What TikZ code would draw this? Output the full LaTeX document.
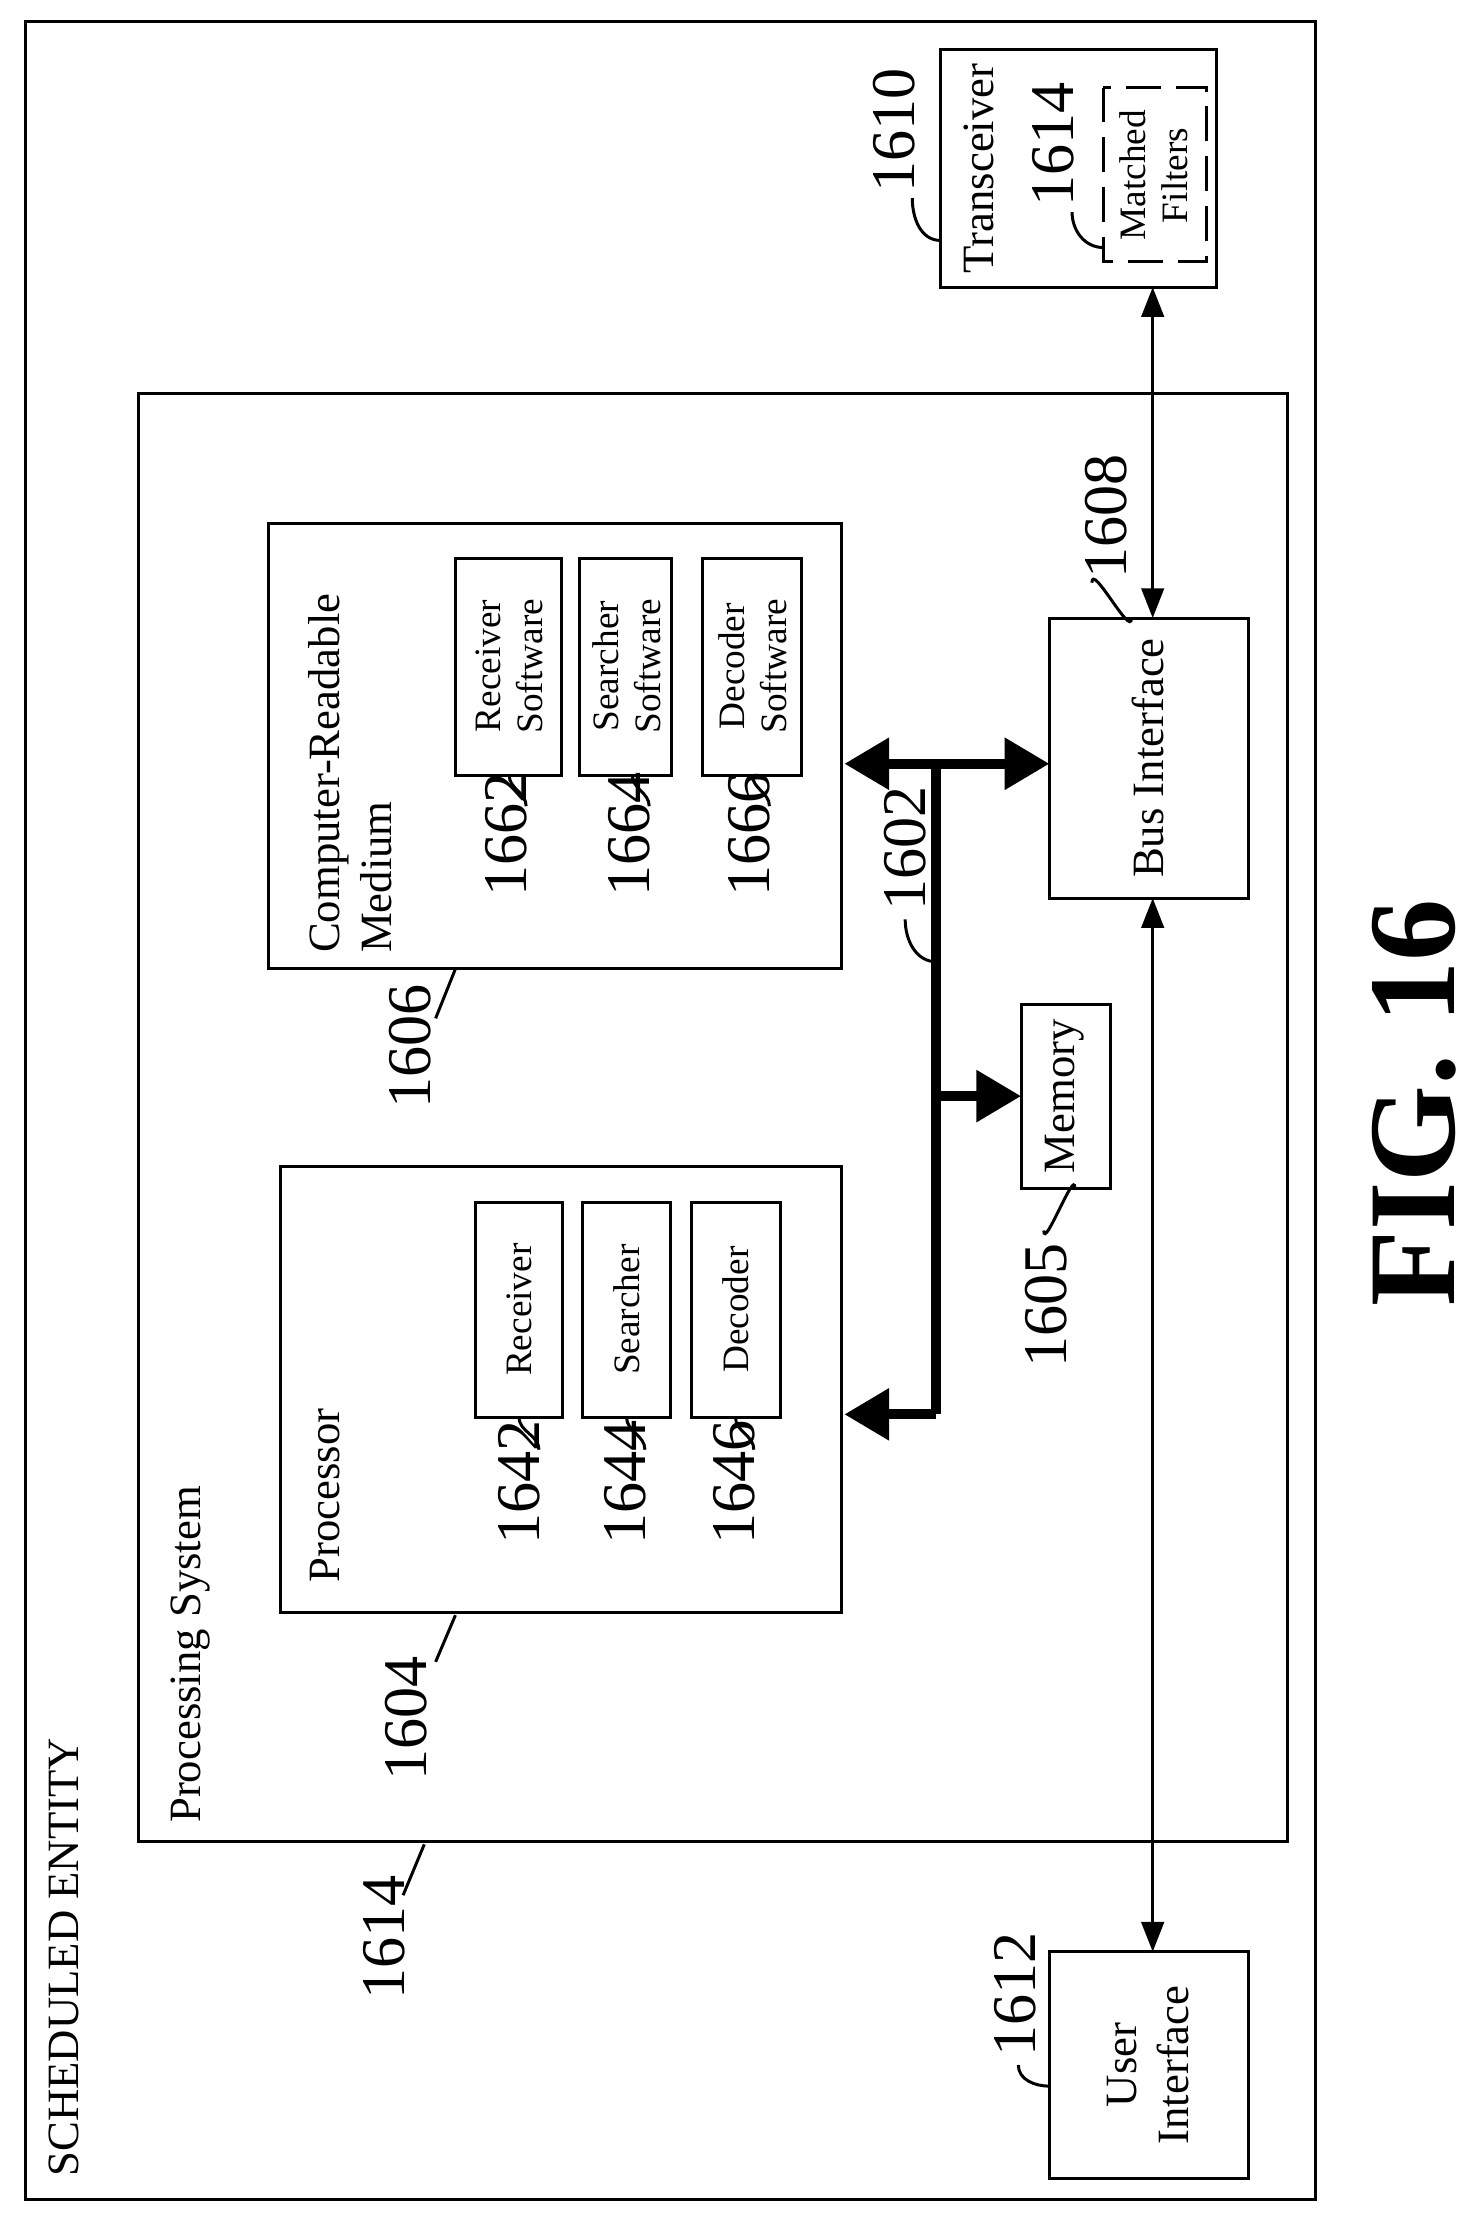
\documentclass[tikz,border=0pt]{standalone}
\usepackage{fontspec}
\setmainfont{Liberation Serif}
\usetikzlibrary{arrows.meta, positioning}

\begin{document}
\begin{tikzpicture}[
  x=0.02cm, y=-0.02cm,
  box/.style={draw, line width=1.2pt, inner sep=0pt},
  txt/.style={rotate=90, align=center, font=\fontsize{18}{21}\selectfont},
  small/.style={rotate=90, align=center, font=\fontsize{15}{17}\selectfont},
  num/.style={rotate=90, font=\fontsize{25}{28}\selectfont},
  lead/.style={line width=1.2pt},
  bus/.style={line width=4pt},
  busarrow/.style={line width=4pt, -{Triangle[length=18pt,width=20pt]}},
  thin/.style={line width=1.4pt, {Triangle[length=12pt,width=9pt]}-{Triangle[length=12pt,width=9pt]}}
]
\useasboundingbox (0,0) rectangle (1045,1576);

% Rahmen
\draw[box] (18,15) rectangle (930,1555);
\node[txt, anchor=west] (entity) at (45,1545) {SCHEDULED ENTITY};
\draw[box] (98,278) rectangle (910,1302);
\node[txt, anchor=west] (psys) at (135,1295) {Processing System};

% Transceiver
\draw[box] (665,35) rectangle (860,203);
\node[txt] (trx) at (692,119) {Transceiver};
\draw[box, dashed, dash pattern=on 14pt off 6pt] (780,62) rectangle (853,185);
\node[small] (mf) at (816,124) {Matched\\Filters};
\coordinate (trxB) at (815,203);

% Bus Interface
\draw[box] (742,437) rectangle (883,635);
\node[txt] (bi) at (812,536) {Bus Interface};
\coordinate (biT) at (815,437);
\coordinate (biB) at (815,635);
\coordinate (biL) at (742,540);

% Memory
\draw[box] (722,710) rectangle (785,840);
\node[txt] (mem) at (753,775) {Memory};
\coordinate (memL) at (722,775);

% User Interface
\draw[box] (742,1380) rectangle (883,1540);
\node[txt] (ui) at (812,1460) {User\\Interface};
\coordinate (uiT) at (815,1380);

% Computer-Readable Medium
\draw[box] (190,370) rectangle (595,685);
\node[txt, anchor=north west, align=left] (crm) at (212,680) {Computer-Readable\\Medium};
\draw[box] (322,395) rectangle (397,548);
\node[small] (rs) at (360,471) {Receiver\\Software};
\draw[box] (410,395) rectangle (475,548);
\node[small] (ss) at (443,471) {Searcher\\Software};
\draw[box] (497,395) rectangle (567,548);
\node[small] (ds) at (532,471) {Decoder\\Software};
\coordinate (crmR) at (597,540);

% Processor
\draw[box] (198,825) rectangle (595,1140);
\node[txt, anchor=west] (proc) at (230,1125) {Processor};
\draw[box] (336,850) rectangle (398,1002);
\node[small] (rx) at (367,926) {Receiver};
\draw[box] (412,850) rectangle (474,1002);
\node[small] (sr) at (443,926) {Searcher};
\draw[box] (489,850) rectangle (552,1002);
\node[small] (dc) at (520,926) {Decoder};
\coordinate (procR) at (597,1000);

% Bus
\coordinate (busT) at (662,540);
\coordinate (busM) at (662,775);
\coordinate (busB) at (662,1000);
\draw[bus] (busT) -- (busB);
\draw[busarrow] (busT) -- (crmR);
\draw[busarrow] (busT) -- (biL);
\draw[busarrow] (busB) -- (procR);
\draw[busarrow] (busM) -- (memL);
\draw[thin] (trxB) -- (biT);
\draw[thin] (biB) -- (uiT);

% Bezugszeichen
\node[num] (n1610) at (632,92) {1610};
\draw[lead] (645,140) to[out=-90,in=180] (665,170);
\node[num] (n1614a) at (745,102) {1614};
\draw[lead] (758,150) to[out=-90,in=180] (780,175);
\node[num] (n1608) at (782,365) {1608};
\draw[lead] (772,412) to[out=90,in=-90] (800,437);
\node[num] (n1605) at (740,923) {1605};
\draw[lead] (738,870) to[out=-90,in=90] (760,840);
\node[num] (n1612) at (718,1410) {1612};
\draw[lead] (720,1460) to[out=-90,in=180] (742,1475);
\node[num] (n1602) at (640,600) {1602};
\draw[lead] (640,650) to[out=-90,in=180] (662,680);
\node[num] (n1606) at (290,740) {1606};
\draw[lead] (308,720) -- (322,685);
\node[num] (n1604) at (287,1215) {1604};
\draw[lead] (308,1175) -- (322,1142);
\node[num] (n1614) at (272,1370) {1614};
\draw[lead] (285,1340) -- (300,1304);
\node[num] (n1662) at (358,590) {1662};
\draw[lead] (372,570) to[out=90,in=-90] (360,548);
\node[num] (n1664) at (445,590) {1664};
\draw[lead] (459,570) to[out=90,in=-90] (447,548);
\node[num] (n1666) at (530,590) {1666};
\draw[lead] (544,570) to[out=90,in=-90] (532,548);
\node[num] (n1642) at (367,1048) {1642};
\draw[lead] (381,1025) to[out=90,in=-90] (367,1002);
\node[num] (n1644) at (442,1048) {1644};
\draw[lead] (456,1025) to[out=90,in=-90] (443,1002);
\node[num] (n1646) at (519,1048) {1646};
\draw[lead] (533,1025) to[out=90,in=-90] (520,1002);

\node[rotate=90, font=\fontsize{50}{55}\selectfont\bfseries] (fig) at (1000,780) {FIG. 16};
\end{tikzpicture}
\end{document}
